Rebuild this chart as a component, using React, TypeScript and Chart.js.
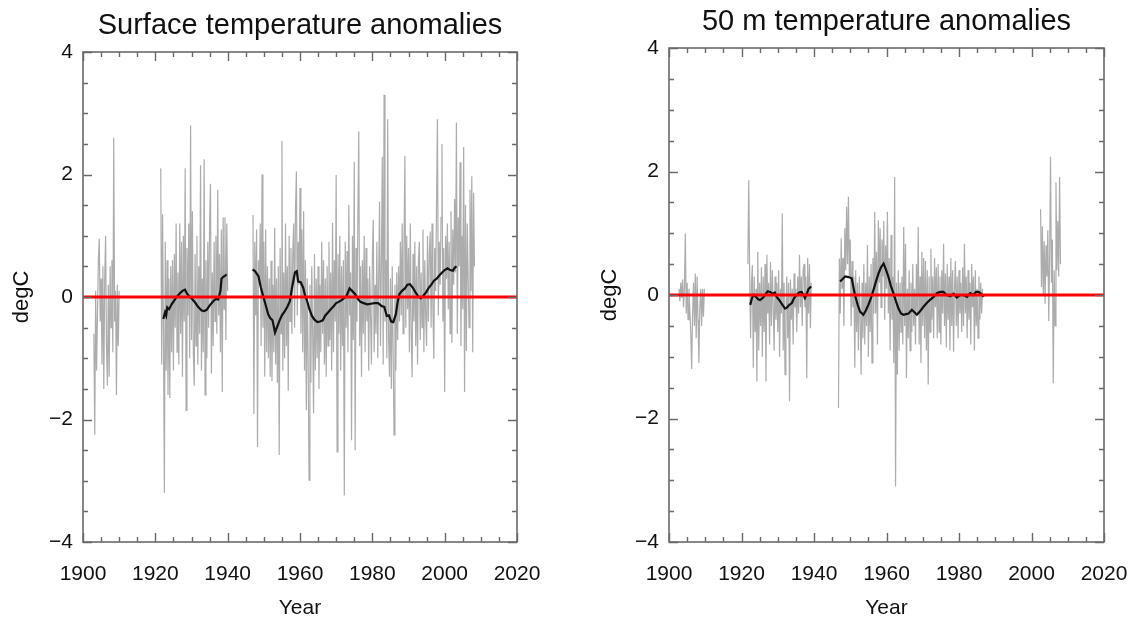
import { useRef, useEffect } from 'react'
import { Chart, registerables } from 'chart.js'

Chart.register(...registerables)

// tick labels
const X_TICKS = [1900, 1920, 1940, 1960, 1980, 2000, 2020]
const Y_TICKS = [-4, -2, 0, 2, 4]
const X_MINOR = 5
const Y_MINOR = 0.5

// gray series are sampled every quarter year
const STEP = 0.25

// ---- surface, gray (raw anomalies) ----
const surfaceStarts = [1903, 1921.5, 1947]
const surfaceGrayA = [
  -0.6, -2.25, 0.1, -1.2, -0.3, 0.6, 0.95, -0.4, 0.3, -1.1, 0.5, -1.5,
  0.3, 1.0, -0.8, -1.45, 0.2, -1.3, 0.5, -0.5, 0.6, -0.9, 2.6, -0.4,
  0.1, -1.6, 0.2, -0.8, 0.1,
]
const surfaceGrayB = [
  2.1, -1.1, 1.35, -0.6, -3.2, 0.9, -1.2, 0.6, -1.6, 0.3, -1.65, 0.5,
  -0.9, 0.6, -1.2, 0.7, -0.5, 1.2, -0.9, 0.4, -1.1, 1.2, -0.6, 0.9,
  -1.3, 1.0, -0.4, 2.1, -1.85, 0.8, -0.3, 1.2, -1.0, 2.8, -0.7, 1.4,
  -0.9, -1.45, 0.7, -0.8, 1.0, -1.1, 0.5, -0.6, 2.15, -1.2, 0.3, -0.9,
  2.25, -1.6, 0.6, -1.0, 0.9, -0.5, 1.2, 1.85, -1.25, 0.4, -0.8, 0.9,
  -0.4, 1.0, -0.6, 1.75, -0.3, 0.7, -0.9, 1.1, -1.55, 1.3, -0.2, 1.3,
  -0.7, 1.2, 0.1,
]
const surfaceGrayC = [
  1.34, -1.91, 0.9, -0.3, 1.1, -2.45, 0.6, 0.2, 1.2, -0.8, 2.0, -0.5,
  0.9, -1.3, 1.1, -0.9, 0.5, -1.0, 0.3, -1.3, 0.59, -1.37, 0.2, -0.9,
  1.13, -1.1, 0.3, -1.4, 0.5, -2.58, 0.8, -0.6, 2.55, -1.2, 0.4, -1.0,
  1.2, -0.8, 0.5, -1.53, 1.0, -0.4, 0.8, -0.6, 0.7, 1.2, -0.5, 1.4,
  2.05, -0.3, 0.9, 0.2, 1.78, -0.6, 1.1, -0.9, 1.4, -1.2, 0.6, -1.85,
  0.3, -1.0, -2.99, 0.2, -1.4, 0.5, -0.6, -1.9, 0.7, -1.2, 0.3, -1.0,
  0.5, -1.5, 0.2, -0.9, 0.9, -0.6, 0.6, -1.1, 0.3, -1.3, 0.5, -0.8,
  0.9, -0.7, 0.4, -1.2, 1.21, -0.9, 0.6, -0.4, 1.99, -2.53, 0.7, -0.6,
  1.0, -1.2, 0.5, -0.8, 0.6, -3.24, 0.9, -0.5, 0.75, -0.9, 1.5, -0.3,
  0.4, -2.34, 1.0, -0.7, 2.21, -2.5, 0.8, -0.4, 1.3, 2.7, -0.8, 0.5,
  -1.3, 0.6, -0.6, 1.0, -0.9, 0.8, -0.4, 0.3, -1.2, 0.5, -0.3, -1.1,
  0.6, 1.26, -0.9, 0.2, -0.6, 0.9, -1.0, 0.3, 1.56, -0.8, 0.5, 2.29,
  -1.1, 3.3, -0.4, 0.6, -1.0, 2.9, -0.7, -1.3, 0.3, -1.5, 0.5, -0.9,
  -2.25, 0.2, -1.2, 0.4, -0.7, 0.5, -0.4, 0.9, -0.3, 1.2, -0.6, 0.8,
  2.3, -0.5, 1.0, -0.2, 0.8, -0.9, 1.2, -0.6, -1.31, 0.7, -0.4, 0.9,
  -0.8, 0.5, -1.1, 0.6, 0.9, -0.7, 0.4, -0.5, 1.1, -0.9, 0.6, -0.3,
  -0.8, 1.0, -0.4, 0.7, 1.07, -0.5, 1.2, -0.2, -1.01, 0.8, 0.1, 1.5,
  2.9, -0.3, 0.9, 0.2, 1.3, 2.5, -0.4, 0.8, -1.55, 1.0, 0.3, 1.2,
  -0.2, 0.9, -0.6, 1.4, -0.75, 1.1, 0.2, 1.6, 0.4, 2.85, -0.6, 1.3,
  0.5, 2.2, -0.8, 1.0, -0.2, 2.45, -1.55, 1.5, -0.88, 1.2, 0.3, -0.5,
  1.75, 0.1, 1.97, -0.9, 1.7, 0.5,
]

// ---- surface, black (running mean) ----
const surfaceMeanYearsB = [
  1922.2, 1922.7, 1923.0, 1923.3, 1923.8, 1924.5, 1925.2, 1925.9, 1926.8,
  1927.5, 1928.2, 1928.8, 1929.6, 1930.3, 1931.0, 1931.8, 1932.8, 1933.5,
  1934.2, 1935.0, 1936.0, 1936.7, 1937.4, 1938.0, 1938.3, 1938.8, 1939.3,
  1939.7,
]
const surfaceMeanB = [
  -0.36, -0.25, -0.3, -0.17, -0.2, -0.12, -0.06, 0.0, 0.06, 0.1, 0.12,
  0.05, 0.0, -0.04, -0.09, -0.16, -0.22, -0.23, -0.21, -0.14, -0.07,
  -0.03, -0.04, 0.1, 0.3, 0.33, 0.35, 0.37,
]
const surfaceMeanYearsC = [
  1946.9, 1947.6, 1948.5, 1949.2, 1949.7, 1950.6, 1951.2, 1951.7, 1952.4,
  1953.1, 1953.6, 1954.3, 1955.0, 1955.8, 1956.5, 1957.2, 1957.8, 1958.6,
  1959.1, 1959.5, 1960.2, 1960.9, 1961.4, 1961.9, 1962.6, 1963.3, 1964.0,
  1964.8, 1965.5, 1966.3, 1967.0, 1967.8, 1968.5, 1969.3, 1970.0, 1970.7,
  1971.5, 1972.2, 1972.9, 1973.7, 1974.4, 1975.2, 1976.0, 1976.7, 1977.6,
  1978.6, 1979.6, 1980.6, 1981.6, 1982.6, 1983.3, 1984.0, 1984.6, 1985.2,
  1985.8, 1986.5, 1987.0, 1987.5, 1988.2, 1989.0, 1989.7, 1990.4, 1991.2,
  1991.9, 1992.6, 1993.4, 1994.1, 1994.9, 1995.6, 1996.4, 1997.1, 1997.8,
  1998.5, 1999.3, 2000.0, 2000.8, 2001.5, 2002.3, 2002.8, 2003.3,
]
const surfaceMeanC = [
  0.45, 0.42, 0.34, 0.15, 0.04, -0.15, -0.28, -0.34, -0.38, -0.58, -0.5,
  -0.39, -0.3, -0.23, -0.16, -0.07, 0.15, 0.4, 0.42, 0.25, 0.24, 0.15,
  0.02, -0.05, -0.2, -0.31, -0.37, -0.41, -0.4, -0.38, -0.3, -0.25, -0.2,
  -0.15, -0.1, -0.08, -0.05, -0.02, 0.02, 0.14, 0.1, 0.05, -0.03, -0.08,
  -0.1, -0.12, -0.11, -0.1, -0.1, -0.15, -0.16, -0.31, -0.3, -0.4, -0.41,
  -0.28, -0.08, 0.05, 0.1, 0.14, 0.2, 0.21, 0.15, 0.08, 0.02, -0.02,
  0.02, 0.08, 0.15, 0.21, 0.27, 0.3, 0.35, 0.4, 0.44, 0.47, 0.44, 0.43,
  0.48, 0.5,
]

// ---- 50 m, gray (raw anomalies) ----
const deepStarts = [1902.75, 1921.75, 1946.75, 2002.5]
const deepGrayA = [
  0.1, -0.1, 0.2, -0.05, 0.25, -0.2, 0.1, 1.0, -0.3, 0.2, -0.4, 0.1,
  -0.25, -0.6, -1.2, -0.3, 0.2, -0.5, 0.35, -0.7, 0.3, -0.4, -1.1, -0.2,
  0.1, -0.5, 0.1, -0.35, 0.1,
]
const deepGrayB = [
  0.5, 1.86, 0.35, -0.7, 0.2, 0.48, -1.18, 0.3, -0.6, 0.1, -1.4, 0.7,
  -0.9, 0.2, -0.5, 0.45, -1.0, 0.3, -0.6, 0.5, -1.4, 0.65, -0.3, 0.2,
  -0.8, 0.54, -0.5, 0.4, -0.2, -0.9, 0.3, -0.4, 0.2, -0.6, 0.4, -1.0,
  0.1, -0.3, 1.32, -0.9, 0.2, -1.29, -0.3, 0.3, -0.7, 0.2, -1.72, 0.25,
  -0.4, 0.1, -0.8, 0.35, -0.2, 0.1, -0.6, 0.3, -0.3, 0.65, -0.2, 0.3,
  -0.5, 0.4, 0.5, -0.2, 0.3, -1.35, 0.6, -0.3, 0.5, -0.54, 0.2,
]
const deepGrayC = [
  -1.83, 0.59, -0.3, 0.92, 0.1, 0.6, -0.5, 1.08, 0.4, 1.43, 0.5, 1.59,
  0.3, 0.9, -0.5, 0.55, -0.2, 0.3, -1.18, 0.4, -0.6, 0.2, -0.9, 0.3,
  -0.4, -1.29, 0.2, -0.7, 0.5, -0.8, 0.2, -0.5, 0.81, -1.0, 0.3, -0.6,
  0.5, -1.1, 0.6, -0.3, 1.35, -0.3, 0.7, -0.8, 1.21, 0.2, 1.08, -0.2,
  0.9, 0.3, 1.2, -0.4, 0.8, 0.1, 1.35, -0.3, 0.6, -0.9, 0.97, -0.4,
  0.3, -1.1, 1.91, -3.1, 0.2, -1.29, 0.4, -0.9, 0.2, -0.6, 0.3, -0.8,
  1.1, -0.5, 0.83, -1.35, 0.1, -0.7, 0.4, -0.9, 0.2, -0.6, 0.5, -0.5,
  0.1, -0.8, 0.5, -0.3, 1.1, -0.8, 0.3, -1.1, 0.7, -0.5, 0.6, -0.7,
  0.55, -0.9, 0.4, -1.45, 0.3, -0.6, 0.75, -0.4, 0.3, -0.7, 0.6, -0.2,
  0.45, -0.7, 0.5, -0.6, 0.3, -0.8, 0.4, -0.3, 0.83, -0.5, 0.35, -0.85,
  0.5, -0.4, 0.3, -0.9, 0.6, -0.5, 0.4, -0.92, 0.1, 0.55, -0.5, 0.3,
  -0.7, 0.4, -0.3, 0.2, -0.6, 0.45, -0.5, 0.83, -0.3, 0.3, -0.7, 0.4,
  -0.4, 0.2, -0.8, 0.5, -0.2, 0.3, -0.9, 0.4, -0.5, 0.1, -0.7, 0.3,
  -0.4, 0.2, -0.3, 0.1,
]
const deepGrayD = [
  1.39, 0.13, 1.11, 0.0, 0.87, -0.14, 0.8, 0.3, 1.05, -0.42, 0.6, 2.24,
  0.2, 0.9, -1.43, 0.4, -0.5, 1.82, 0.4, 1.2, 0.3, 1.91, 0.5,
]

// ---- 50 m, black (running mean) ----
const deepMeanYearsB = [
  1922.4, 1922.9, 1923.3, 1924.0, 1924.6, 1925.1, 1925.8, 1926.5, 1927.2,
  1927.9, 1928.6, 1929.2, 1929.7, 1930.4, 1931.2, 1932.0, 1932.6, 1933.2,
  1933.9, 1934.5, 1935.2, 1935.9, 1936.6, 1937.1, 1937.5, 1938.0, 1938.5,
  1938.9, 1939.2,
]
const deepMeanB = [
  -0.16, -0.05, 0.0, -0.03, -0.07, -0.08, -0.05, 0.0, 0.06, 0.05, 0.02,
  0.04, -0.03, -0.08, -0.15, -0.22, -0.2, -0.16, -0.13, -0.05, 0.0, 0.04,
  0.05, 0.0, -0.05, 0.02, 0.1, 0.12, 0.14,
]
const deepMeanYearsC = [
  1947.2, 1947.9, 1948.6, 1949.5, 1950.4, 1950.9, 1951.3, 1952.0, 1952.7,
  1953.6, 1954.3, 1955.0, 1955.7, 1956.4, 1957.1, 1957.8, 1958.5, 1959.2,
  1959.8, 1960.5, 1961.2, 1961.9, 1962.6, 1963.3, 1964.0, 1964.7, 1965.4,
  1966.1, 1967.0, 1967.7, 1968.4, 1969.3, 1970.2, 1971.1, 1972.0, 1973.0,
  1973.9, 1974.8, 1975.7, 1976.6, 1977.6, 1978.5, 1979.4, 1980.3, 1981.2,
  1982.2, 1983.1, 1984.0, 1984.7, 1985.4, 1986.1, 1986.8,
]
const deepMeanC = [
  0.22, 0.26, 0.3, 0.29, 0.27, 0.12, 0.0, -0.15, -0.27, -0.32, -0.25,
  -0.16, -0.05, 0.08, 0.22, 0.35, 0.45, 0.51, 0.42, 0.3, 0.15, 0.03, -0.1,
  -0.22, -0.3, -0.32, -0.31, -0.3, -0.24, -0.28, -0.32, -0.26, -0.19,
  -0.13, -0.08, -0.03, 0.03, 0.05, 0.05, 0.0, -0.02, 0.02, -0.04, 0.0,
  0.0, -0.03, 0.03, 0.0, 0.05, 0.05, 0.02, -0.03,
]

// zero reference line
const zeroYears = [1900, 2020]
const zeroValues = [0, 0]

const FONT = "'Liberation Sans', Arial, Helvetica, sans-serif"
const FRAME_COLOR = '#6a6a6a'

type Pt = { x: number; y: number | null }

function quarterly(start: number, vals: number[]): Pt[] {
  return vals.map((v, i) => ({ x: start + i * STEP, y: v }))
}

function paired(xs: number[], ys: number[]): Pt[] {
  return xs.map((x, i) => ({ x, y: ys[i] }))
}

// join segments, with a null point between them so the line breaks
function joinSegments(segs: Pt[][]): Pt[] {
  const out: Pt[] = []
  segs.forEach((s, i) => {
    if (i > 0) out.push({ x: (out[out.length - 1].x + s[0].x) / 2, y: null })
    out.push(...s)
  })
  return out
}

// box round the plot, with IDL-style inward ticks
const framePlugin = {
  id: 'frame',
  afterDatasetsDraw(chart: any) {
    const { ctx, chartArea: a, scales } = chart
    const xs = scales.x
    const ys = scales.y
    ctx.save()
    ctx.strokeStyle = FRAME_COLOR
    ctx.lineWidth = 1.4
    ctx.beginPath()
    for (let v = xs.min; v <= xs.max + 1e-6; v += X_MINOR) {
      const px = Math.round(xs.getPixelForValue(v)) + 0.5
      const len = X_TICKS.includes(v) ? 9 : 5
      ctx.moveTo(px, a.bottom)
      ctx.lineTo(px, a.bottom - len)
      ctx.moveTo(px, a.top)
      ctx.lineTo(px, a.top + len)
    }
    for (let v = ys.min; v <= ys.max + 1e-6; v += Y_MINOR) {
      const py = Math.round(ys.getPixelForValue(v)) + 0.5
      const len = Y_TICKS.includes(v) ? 9 : 5
      ctx.moveTo(a.left, py)
      ctx.lineTo(a.left + len, py)
      ctx.moveTo(a.right, py)
      ctx.lineTo(a.right - len, py)
    }
    ctx.stroke()
    ctx.lineWidth = 1.6
    ctx.strokeRect(a.left, a.top, a.right - a.left, a.bottom - a.top)
    ctx.restore()
  },
}

type PanelProps = {
  title: string
  gray: Pt[]
  mean: Pt[]
  yAxisWidth: number
  padRight: number
  titlePadTop: number
  titlePadBottom: number
  yTitlePad: number
}

function Panel(p: PanelProps) {
  const chartRef = useRef<HTMLCanvasElement>(null)
  const chartInstance = useRef<Chart | null>(null)

  useEffect(() => {
    if (!chartRef.current) return
    if (chartInstance.current) chartInstance.current.destroy()
    const ctx = chartRef.current.getContext('2d')
    if (!ctx) return

    chartInstance.current = new Chart(ctx, {
      type: 'line',
      data: {
        datasets: [
          {
            data: paired(zeroYears, zeroValues),
            borderColor: '#ff0000',
            borderWidth: 3,
            pointRadius: 0,
            order: 0,
          },
          {
            data: p.mean,
            borderColor: '#111111',
            borderWidth: 2.2,
            pointRadius: 0,
            order: 1,
          },
          {
            data: p.gray,
            borderColor: 'rgba(128, 128, 128, 0.65)',
            borderWidth: 1.2,
            pointRadius: 0,
            order: 2,
          },
        ],
      },
      plugins: [framePlugin],
      options: {
        animation: false,
        responsive: true,
        maintainAspectRatio: false,
        spanGaps: false,
        layout: { padding: { left: 0, right: p.padRight, top: 0, bottom: 0 } },
        plugins: {
          legend: { display: false },
          tooltip: { enabled: false },
          title: {
            display: true,
            text: p.title,
            fullSize: false,
            color: '#111',
            font: { family: FONT, size: 29, weight: 'normal', lineHeight: 1 },
            padding: { top: p.titlePadTop, bottom: p.titlePadBottom },
          },
        },
        scales: {
          x: {
            type: 'linear',
            min: 1900,
            max: 2020,
            afterFit: (s: any) => {
              s.height = 77
            },
            afterBuildTicks: (s: any) => {
              s.ticks = X_TICKS.map((v) => ({ value: v }))
            },
            // hidden tick marks only make room above the labels
            grid: { display: false, drawTicks: true, tickLength: 18 },
            border: { display: false },
            ticks: {
              padding: 2,
              maxRotation: 0,
              autoSkip: false,
              color: '#111',
              font: { family: FONT, size: 21 },
              callback: (v: any) => String(v),
            },
            title: {
              display: true,
              text: 'Year',
              color: '#111',
              font: { family: FONT, size: 21, lineHeight: 1 },
              padding: { top: 0, bottom: 0 },
            },
          },
          y: {
            type: 'linear',
            min: -4,
            max: 4,
            afterFit: (s: any) => {
              s.width = p.yAxisWidth
            },
            afterBuildTicks: (s: any) => {
              s.ticks = Y_TICKS.map((v) => ({ value: v }))
            },
            grid: { display: false, drawTicks: true, tickLength: 8 },
            border: { display: false },
            ticks: {
              padding: 2,
              color: '#111',
              font: { family: FONT, size: 21 },
              callback: (v: any) => (v < 0 ? '\u2212' + Math.abs(v) : String(v)),
            },
            title: {
              display: true,
              text: 'degC',
              color: '#111',
              font: { family: FONT, size: 22, lineHeight: 1 },
              padding: { top: p.yTitlePad, bottom: 0 },
            },
          },
        },
      },
    } as any)

    return () => {
      if (chartInstance.current) {
        chartInstance.current.destroy()
        chartInstance.current = null
      }
    }
  }, [])

  return <canvas ref={chartRef} />
}

const surfaceGray = joinSegments([
  quarterly(surfaceStarts[0], surfaceGrayA),
  quarterly(surfaceStarts[1], surfaceGrayB),
  quarterly(surfaceStarts[2], surfaceGrayC),
])
const surfaceMean = joinSegments([
  paired(surfaceMeanYearsB, surfaceMeanB),
  paired(surfaceMeanYearsC, surfaceMeanC),
])
const deepGray = joinSegments([
  quarterly(deepStarts[0], deepGrayA),
  quarterly(deepStarts[1], deepGrayB),
  quarterly(deepStarts[2], deepGrayC),
  quarterly(deepStarts[3], deepGrayD),
])
const deepMean = joinSegments([
  paired(deepMeanYearsB, deepMeanB),
  paired(deepMeanYearsC, deepMeanC),
])

export default function App() {
  return (
    <div
      style={{
        position: 'fixed',
        left: 0,
        top: 0,
        width: 1131,
        height: 619,
        background: '#fff',
      }}
    >
      <div style={{ position: 'absolute', left: 0, top: 0, width: 565, height: 619 }}>
        <Panel
          title="Surface temperature anomalies"
          gray={surfaceGray}
          mean={surfaceMean}
          yAxisWidth={83}
          padRight={48}
          titlePadTop={11.5}
          titlePadBottom={11.5}
          yTitlePad={11}
        />
      </div>
      <div style={{ position: 'absolute', left: 565, top: 0, width: 566, height: 619 }}>
        <Panel
          title="50 m temperature anomalies"
          gray={deepGray}
          mean={deepMean}
          yAxisWidth={104}
          padRight={27}
          titlePadTop={7.5}
          titlePadBottom={11.5}
          yTitlePad={34}
        />
      </div>
    </div>
  )
}
